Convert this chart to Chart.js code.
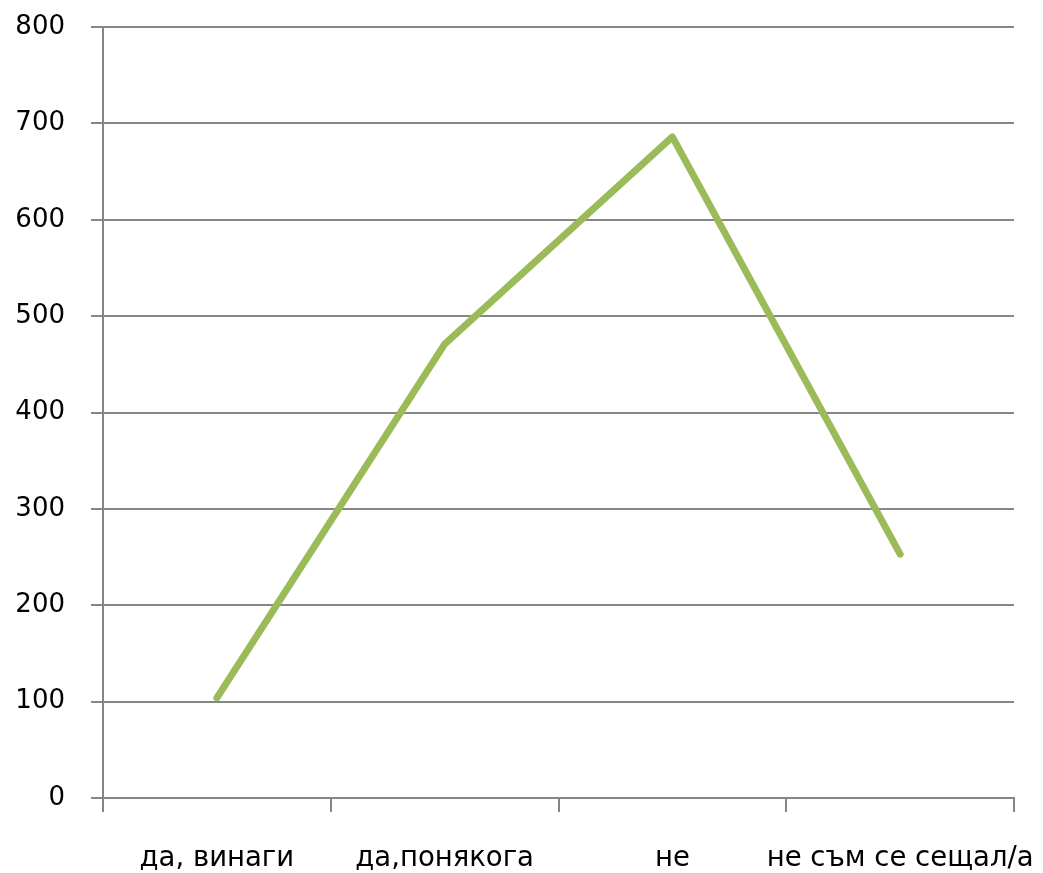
<!DOCTYPE html>
<html>
<head>
<meta charset="utf-8">
<script src="https://cdn.jsdelivr.net/npm/chart.js@4/dist/chart.umd.min.js"></script>
<style>
  html, body { margin: 0; padding: 0; background: #fff; }
  canvas { display: block; }
</style>
</head>
<body>
<canvas id="c" width="1043" height="873"></canvas>
<script>
// Answers and how many people gave each one
const categories = ['да, винаги', 'да,понякога', 'не', 'не съм се сещал/а'];
const answerCounts = [104, 471, 686, 253];
const yTicks = [0, 100, 200, 300, 400, 500, 600, 700, 800];

const gridGray = '#868686';

new Chart(document.getElementById('c'), {
  type: 'line',
  data: {
    labels: categories,
    datasets: [{
      data: answerCounts,
      borderColor: '#9bbb59',
      borderWidth: 7,
      borderCapStyle: 'round',
      borderJoinStyle: 'round',
      pointRadius: 0,
      tension: 0,
      fill: false
    }]
  },
  options: {
    responsive: false,
    animation: false,
    layout: { padding: { top: 27, right: 29, left: 0, bottom: 0 } },
    plugins: { legend: { display: false }, tooltip: { enabled: false } },
    scales: {
      x: {
        offset: true,
        grid: {
          offset: true,
          drawOnChartArea: false,
          drawTicks: true,
          tickLength: 14,
          color: gridGray,
          lineWidth: 2
        },
        border: { color: gridGray, width: 2 },
        ticks: {
          color: '#000',
          padding: 30,
          maxRotation: 0,
          autoSkip: false,
          font: { family: 'DejaVu Sans', size: 27.5 }
        },
        afterFit: s => {
          s.height = 75;
          s.paddingLeft = 0;
          s.paddingRight = 0;
        }
      },
      y: {
        min: 0,
        max: 800,
        afterBuildTicks: s => { s.ticks = yTicks.map(v => ({ value: v })); },
        grid: {
          color: gridGray,
          lineWidth: 2,
          tickLength: 12
        },
        border: { color: gridGray, width: 2 },
        ticks: {
          color: '#000',
          padding: 26,
          font: { family: 'DejaVu Sans', size: 26 }
        },
        afterFit: s => {
          s.width = 103;
          s.paddingTop = 0;
          s.paddingBottom = 0;
        }
      }
    }
  }
});
</script>
</body>
</html>
